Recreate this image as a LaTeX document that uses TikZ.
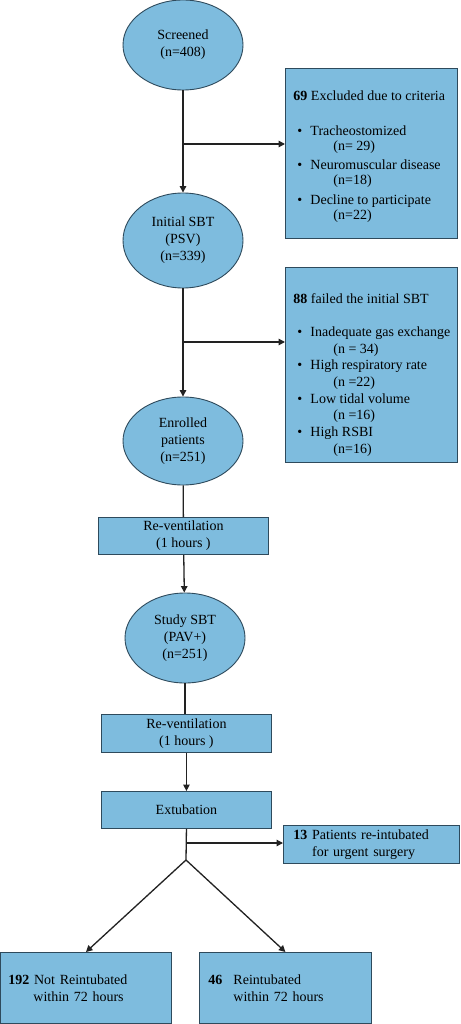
\documentclass[tikz,border=0pt]{standalone}
\usepackage{fontspec}
\setmainfont{Liberation Serif}
\usetikzlibrary{shapes.geometric,arrows.meta}
\definecolor{fillcol}{HTML}{7EBCDE}
\definecolor{bordercol}{HTML}{2E4A5C}
\definecolor{linecol}{HTML}{222222}
\tikzset{
  ell/.style={ellipse, draw=bordercol, fill=fillcol, line width=0.9pt, inner sep=0pt,
    minimum width=120, minimum height=90, align=center, font=\fontsize{14}{17}\selectfont},
  flowbox/.style={rectangle, draw=bordercol, fill=fillcol, line width=0.9pt, inner sep=0pt,
    anchor=north west, align=center, font=\fontsize{14}{17}\selectfont},
  ln/.style={draw=linecol, line width=1.3pt},
  arr/.style={ln, -{Triangle[length=6.5pt,width=6.5pt]}}
}
\newcommand{\bul}{\hspace*{12pt}\makebox[13pt][l]{•}}
\begin{document}
\begin{tikzpicture}[x=1pt,y=-1pt]
\useasboundingbox[fill=white] (0,0) rectangle (460,1024);
% ellipses
\node[ell, minimum height=90] (scr) at (183,45) {Screened\\(n=408)};
\node[ell, minimum height=95] (isbt) at (183,240.5) {Initial SBT\\(PSV)\\(n=339)};
\node[ell, minimum height=88] (enr) at (183,441) {Enrolled\\patients\\(n=251)};
\node[ell, minimum height=90] (sbt) at (185,638) {Study SBT\\(PAV+)\\(n=251)};
% side boxes
\node[flowbox, minimum width=172, minimum height=170] (box1) at (285,68)
 {\parbox[c][170pt][t]{172pt}{\fontsize{14}{15}\selectfont\raggedright
  \vspace*{22pt}%
  \hspace*{8pt}\textbf{69} Excluded due to criteria\\[20pt]
  \bul Tracheostomized\\
  \hspace*{48pt}(n= 29)\\[4.5pt]
  \bul Neuromuscular disease\\
  \hspace*{48pt}(n=18)\\[4.5pt]
  \bul Decline to participate\\
  \hspace*{48pt}(n=22)}};
\node[flowbox, minimum width=172, minimum height=195] (box2) at (285,267)
 {\parbox[c][195pt][t]{172pt}{\fontsize{14}{16.7}\selectfont\raggedright
  \vspace*{26pt}%
  \hspace*{8pt}\textbf{88} failed the initial SBT\\[16.3pt]
  \bul Inadequate gas exchange\\
  \hspace*{48pt}(n = 34)\\
  \bul High respiratory rate\\
  \hspace*{48pt}(n =22)\\
  \bul Low tidal volume\\
  \hspace*{48pt}(n =16)\\
  \bul High RSBI\\
  \hspace*{48pt}(n=16)}};
% rectangles in main column
\node[flowbox, minimum width=170, minimum height=37] (rv1) at (98,517) {Re-ventilation\\(1 hours )};
\node[flowbox, minimum width=170, minimum height=38] (rv2) at (101,714) {Re-ventilation\\(1 hours )};
\node[flowbox, minimum width=170, minimum height=37] (ext) at (101,791) {Extubation};
\node[flowbox, minimum width=176, minimum height=38, align=left, inner xsep=10pt, text width=156pt] (box3) at (283,825)
 {\textbf{13} Patients re-intubated\\\hphantom{\textbf{13} }for urgent surgery};
\node[flowbox, minimum width=171, minimum height=71, align=left, inner xsep=8pt, text width=155pt] (box4) at (0,952)
 {\textbf{192} Not Reintubated\\\hspace*{25pt}within 72 hours};
\node[flowbox, minimum width=172, minimum height=71, align=left, inner xsep=9pt, text width=154pt] (box5) at (199,952)
 {\makebox[25pt][l]{\textbf{46}}Reintubated\\\hspace*{25pt}within 72 hours};
% connectors
\coordinate (b1) at (183,144);
\coordinate (b2) at (183,342);
\coordinate (b3) at (186,843);
\coordinate (apex) at (186,860);
\draw[arr] (scr) -- (isbt);
\draw[arr] (b1) -- (b1 -| box1.west);
\draw[arr] (isbt) -- (enr);
\draw[arr] (b2) -- (b2 -| box2.west);
\draw[ln] (enr) -- (rv1);
\draw[arr] (rv1) -- (sbt);
\draw[ln] (sbt.south) -- (sbt.south |- rv2.north);
\draw[arr] (rv2) -- (ext);
\draw[ln] (ext.south) -- (apex);
\draw[arr] (b3) -- (b3 -| box3.west);
\draw[arr] (apex) -- (box4.north);
\draw[arr] (apex) -- (box5.north);
\end{tikzpicture}
\end{document}
